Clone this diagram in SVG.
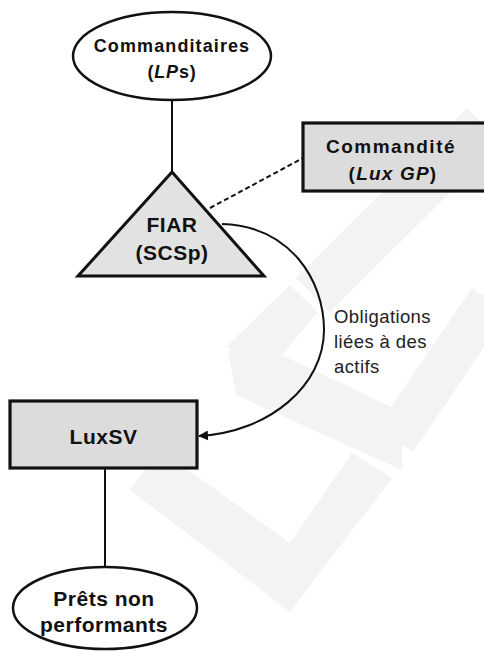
<svg xmlns="http://www.w3.org/2000/svg" width="484" height="651" viewBox="0 0 484 651">
<style>
.wm{fill:#f3f3f3;stroke:none}
.node{stroke:#111;stroke-width:2.5}
.ell{fill:#fff}
.box{fill:#dcdcdc;stroke-width:3.2}
.tri{fill:#e2e2e2;stroke-width:3;stroke-linejoin:miter}
.lbl{font-family:"Liberation Sans",Arial,sans-serif;font-weight:bold;fill:#111;text-anchor:middle}
.edge{fill:none;stroke:#111;stroke-width:2}
.note{font-family:"Liberation Sans",Arial,sans-serif;font-size:18.5px;fill:#222;letter-spacing:0.4px}
</style>
<defs>
<marker id="arr" viewBox="0 0 10 10" refX="9" refY="5" markerWidth="5" markerHeight="5" orient="auto" markerUnits="strokeWidth">
<path d="M0,0 L10,5 L0,10 z" fill="#111"/>
</marker>
</defs>
<rect width="484" height="651" fill="#fff"/>
<g id="watermark">
<polygon class="wm" points="467,108 501,142 330,312 296,278"/>
<polygon class="wm" points="290,285 318,312 261,380 227,346"/>
<polygon class="wm" points="228,352 250,340 402,412 402,470 236,395"/>
<polygon class="wm" points="377,428 472,288 508,312 413,452"/>
<polygon class="wm" points="130,490 290,612 392,478 352,453 290,543 160,450"/>
</g>
<g id="connectors">
<line class="edge" x1="172" y1="100" x2="172" y2="172"/>
<line class="edge" x1="210" y1="208" x2="303" y2="158" stroke-dasharray="5 3"/>
<path class="edge" d="M222,224 C290,226 324,280 324,330 C324,385 270,432 199,436" marker-end="url(#arr)"/>
<line class="edge" x1="105" y1="468" x2="105" y2="567"/>
</g>
<g id="commanditaires">
<ellipse class="node ell" cx="172" cy="56" rx="99" ry="44"/>
<text class="lbl" x="172" y="52" font-size="18" letter-spacing="1.1">Commanditaires</text>
<text class="lbl" x="172" y="78" font-size="18" letter-spacing="0.8">(<tspan font-style="italic">LP</tspan>s)</text>
</g>
<g id="fiar">
<polygon class="node tri" points="172,172 264,276 78,276"/>
<text class="lbl" x="172" y="232" font-size="21" letter-spacing="0.5">FIAR</text>
<text class="lbl" x="172" y="260" font-size="21" letter-spacing="0.5">(SCSp)</text>
</g>
<g id="commandite">
<rect class="node box" x="303" y="123" width="186" height="68"/>
<text class="lbl" x="391" y="153" font-size="19" letter-spacing="1.5">Commandité</text>
<text class="lbl" x="393" y="180" font-size="19" letter-spacing="1.2">(<tspan font-style="italic">Lux GP</tspan>)</text>
</g>
<g id="luxsv">
<rect class="node box" x="10" y="401" width="187" height="67"/>
<text class="lbl" x="103.5" y="444" font-size="21" letter-spacing="0.5">LuxSV</text>
</g>
<g id="prets">
<ellipse class="node ell" cx="105" cy="608" rx="92" ry="41"/>
<text class="lbl" x="104" y="606" font-size="21" letter-spacing="0.5">Prêts non</text>
<text class="lbl" x="104" y="632" font-size="21" letter-spacing="0.5">performants</text>
</g>
<g id="label">
<text class="note" x="334" y="323">Obligations</text>
<text class="note" x="334" y="348">liées à des</text>
<text class="note" x="334" y="373">actifs</text>
</g>
</svg>
